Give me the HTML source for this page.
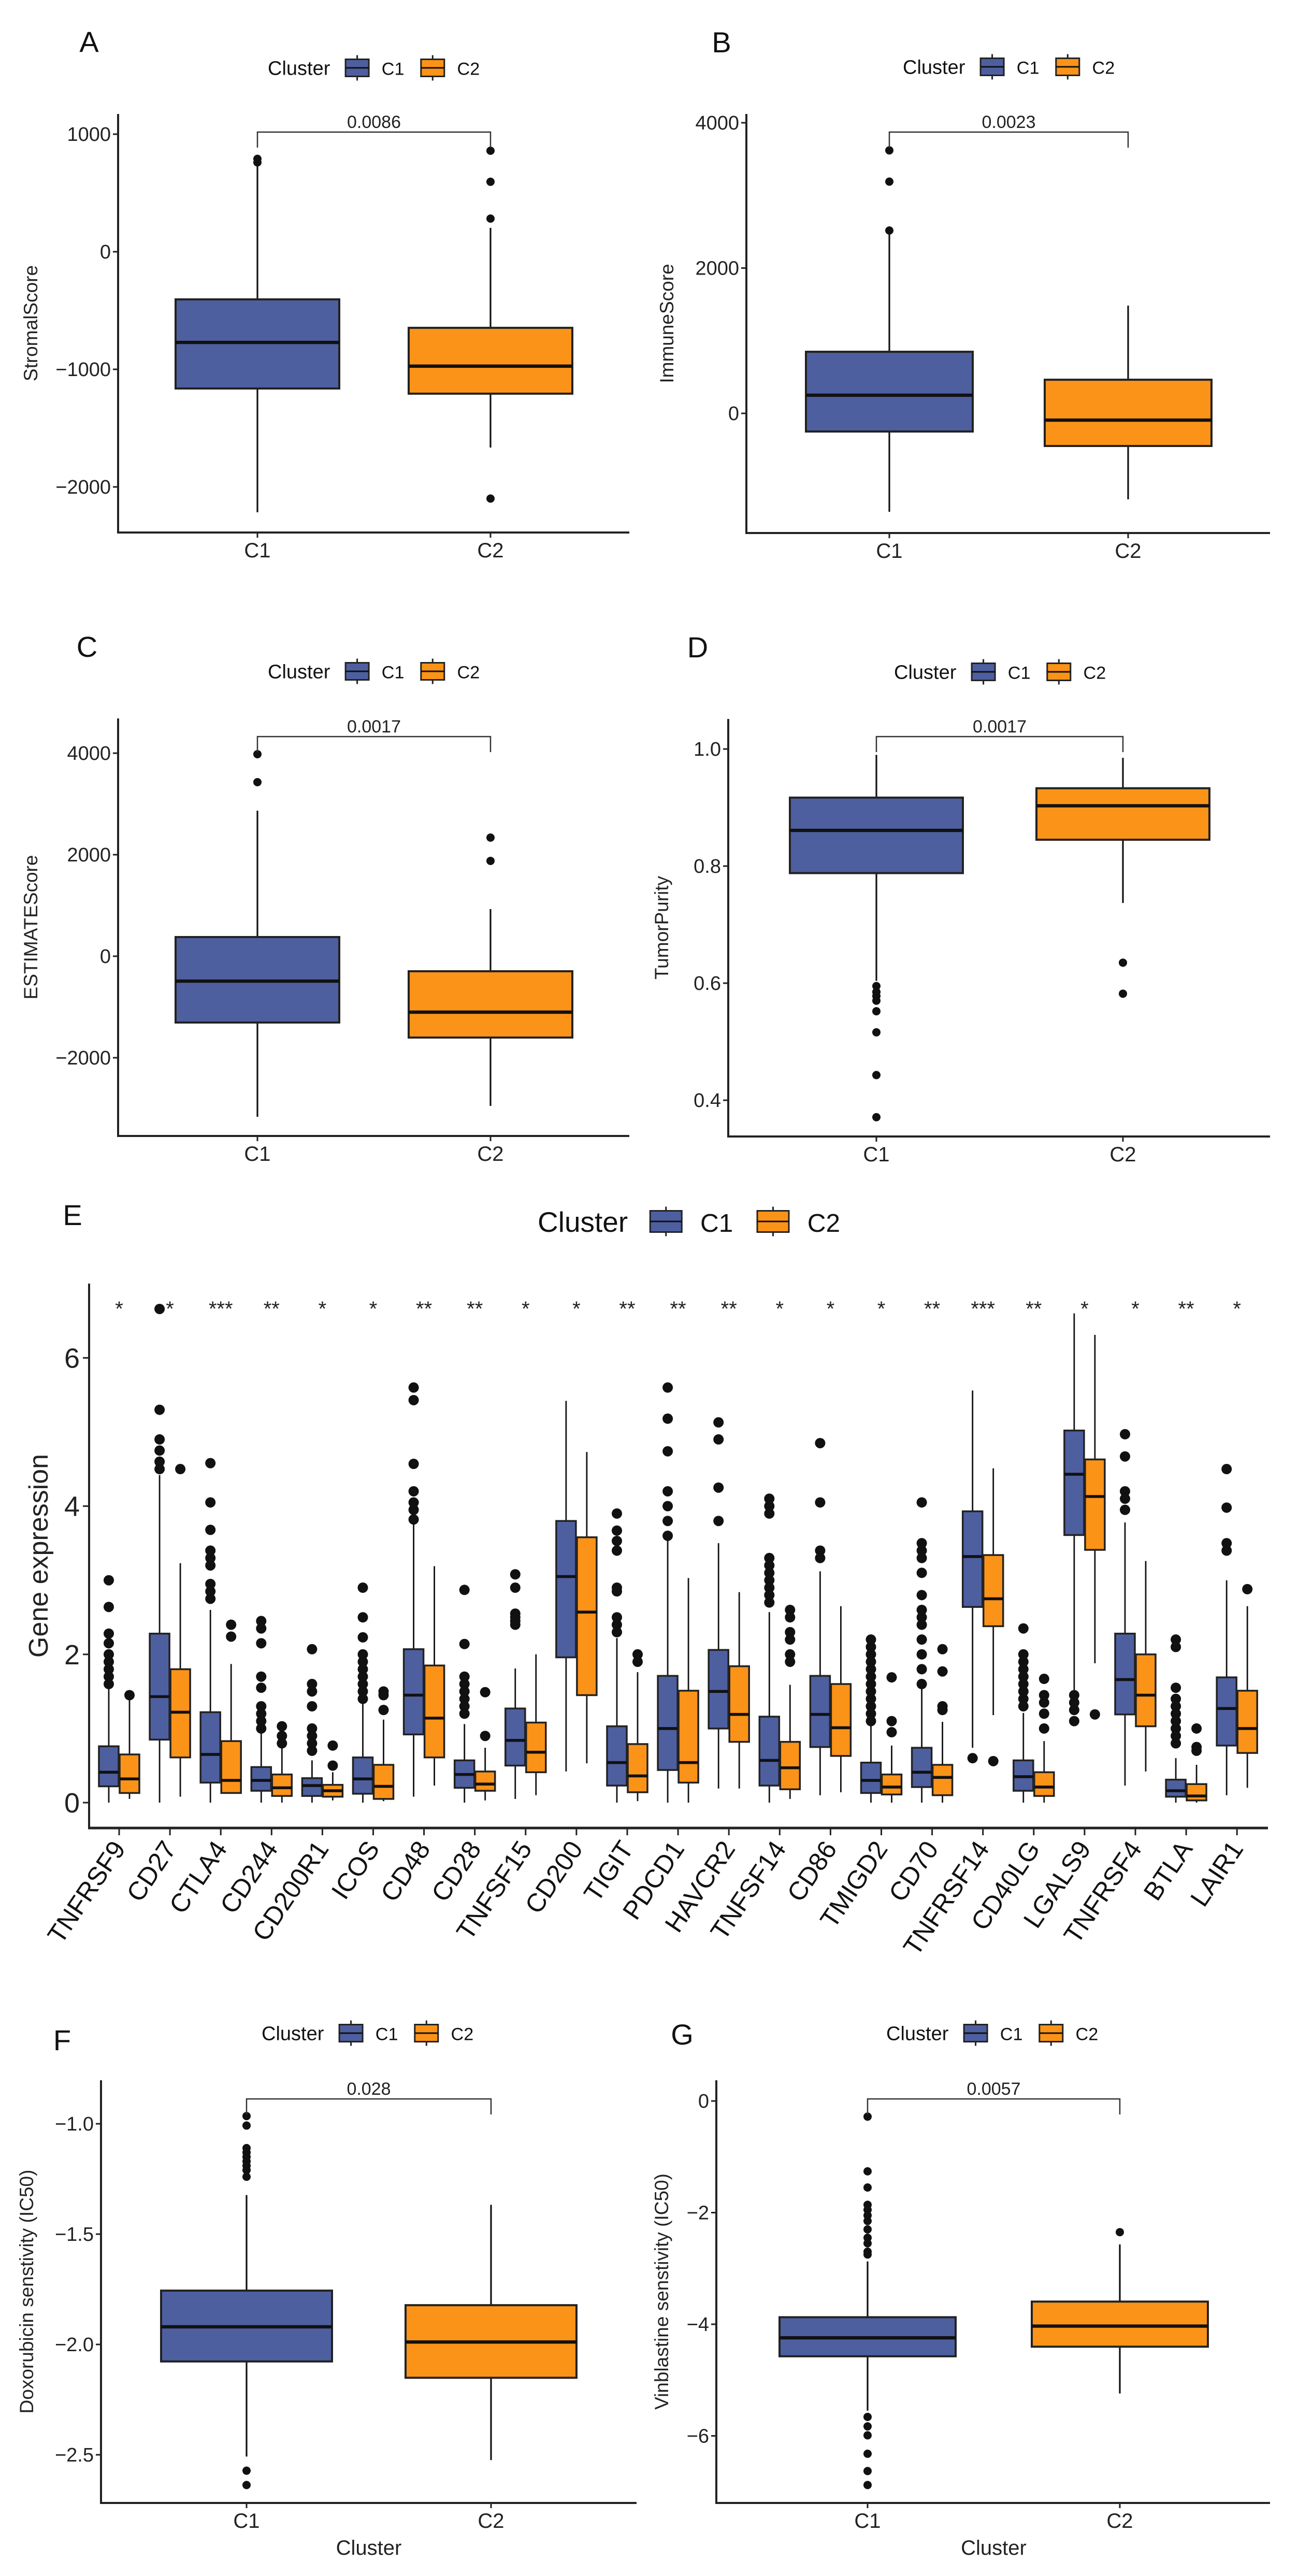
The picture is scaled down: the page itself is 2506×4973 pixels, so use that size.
<!DOCTYPE html>
<html><head><meta charset="utf-8"><style>
body{margin:0;background:#fff}
svg{display:block;font-family:"Liberation Sans",Arial,sans-serif}
</style></head><body>
<svg id="fig" width="2506" height="4973" viewBox="0 0 2506 4973" xmlns="http://www.w3.org/2000/svg">
<rect width="2506" height="4973" fill="#fff"/>
</svg>
<script>
// ---- Panel A: StromalScore ----
const aGroups=["C1","C2"];
const aQ1=[-1163,-1207], aMed=[-771,-973], aQ3=[-405,-647], aLo=[-2216,-1665], aHi=[750,203];
const aOut=[[760,790],[859,595,282,-2099]];
// ---- Panel B: ImmuneScore ----
const bQ1=[-250,-449], bMed=[250,-93], bQ3=[848,463], bLo=[-1355,-1184], bHi=[2470,1483];
const bOut=[[3620,3190,2517],[]];
// ---- Panel C: ESTIMATEScore ----
const cQ1=[-1306,-1602], cMed=[-490,-1102], cQ3=[378,-296], cLo=[-3163,-2949], cHi=[2867,929];
const cOut=[[3980,3429],[2337,1878]];
// ---- Panel D: TumorPurity ----
const dQ1=[0.788,0.845], dMed=[0.861,0.903], dQ3=[0.917,0.933], dLo=[0.604,0.737], dHi=[0.990,0.985];
const dOut=[[0.595,0.585,0.578,0.57,0.552,0.516,0.443,0.371],[0.635,0.582]];
// ---- Panel E: immune checkpoint genes ----
const eGenes=["TNFRSF9","CD27","CTLA4","CD244","CD200R1","ICOS","CD48","CD28","TNFSF15","CD200","TIGIT","PDCD1","HAVCR2","TNFSF14","CD86","TMIGD2","CD70","TNFRSF14","CD40LG","LGALS9","TNFRSF4","BTLA","LAIR1"];
const eStars=["*","*","***","**","*","*","**","**","*","*","**","**","**","*","*","*","**","***","**","*","*","**","*"];
const e1Q1=[0.22,0.85,0.27,0.16,0.09,0.12,0.92,0.2,0.5,1.96,0.23,0.44,1.0,0.23,0.75,0.13,0.21,2.64,0.16,3.61,1.19,0.08,0.77];
const e1Med=[0.41,1.43,0.65,0.3,0.23,0.32,1.45,0.38,0.84,3.05,0.54,1.0,1.5,0.57,1.19,0.3,0.41,3.32,0.35,4.43,1.66,0.16,1.27];
const e1Q3=[0.76,2.28,1.22,0.48,0.33,0.61,2.07,0.57,1.27,3.8,1.03,1.71,2.06,1.16,1.71,0.54,0.74,3.93,0.57,5.02,2.28,0.31,1.69];
const e1Lo=[0,0,0,0,0,0,0.08,0,0.05,0.42,0,0,0.19,0,0.1,0,0,0.74,0,1.52,0.23,0,0.1];
const e1Hi=[1.54,4.42,2.6,0.94,0.57,1.35,3.78,1.06,1.81,5.42,2.22,3.55,3.5,2.57,3.12,1.09,1.54,5.56,1.21,6.6,3.78,0.6,3.0];
const e2Q1=[0.13,0.61,0.13,0.09,0.08,0.05,0.61,0.16,0.41,1.45,0.14,0.27,0.82,0.18,0.63,0.11,0.1,2.38,0.09,3.41,1.03,0.03,0.67];
const e2Med=[0.32,1.22,0.3,0.2,0.16,0.22,1.14,0.25,0.68,2.57,0.36,0.54,1.19,0.47,1.01,0.21,0.34,2.75,0.21,4.13,1.45,0.09,1.0];
const e2Q3=[0.65,1.8,0.83,0.38,0.24,0.51,1.85,0.42,1.08,3.58,0.79,1.51,1.84,0.82,1.6,0.38,0.51,3.34,0.41,4.63,2.0,0.25,1.51];
const e2Lo=[0.05,0.08,0.12,0,0.03,0.02,0.23,0.03,0.1,0.53,0.02,0,0.19,0.05,0.14,0,0,1.18,0,1.88,0.42,0,0.2];
const e2Hi=[1.41,3.23,1.87,0.74,0.41,1.12,3.19,0.74,2.0,4.73,1.76,3.03,2.84,1.59,2.65,0.77,1.09,4.51,0.83,6.31,3.26,0.51,2.65];
const e1Out=[[3.0,2.64,2.28,2.15,2.0,1.9,1.8,1.7,1.6],[6.66,5.3,4.9,4.75,4.6,4.5],[4.58,4.05,3.68,3.4,3.3,3.2,2.95,2.85,2.75],[2.45,2.35,2.15,1.7,1.55,1.3,1.2,1.1,1.0],[2.07,1.6,1.5,1.3,1.0,0.9,0.8,0.7],[2.9,2.5,2.23,2.0,1.9,1.8,1.7,1.6,1.5,1.4],[5.6,5.43,4.57,4.2,4.05,3.95,3.82],[2.87,2.14,1.7,1.6,1.5,1.4,1.3,1.2],[3.08,2.9,2.55,2.5,2.45,2.4],[],[3.9,3.67,3.53,3.4,2.9,2.85,2.5,2.4,2.3],[5.6,5.18,4.74,4.2,4.0,3.8,3.6],[5.13,4.9,4.25,3.8],[4.1,4.0,3.9,3.3,3.2,3.1,3.0,2.9,2.8,2.7],[4.85,4.05,3.4,3.3],[2.2,2.1,2.0,1.9,1.8,1.7,1.6,1.5,1.4,1.3,1.2,1.1],[4.05,3.5,3.4,3.3,3.1,2.8,2.6,2.5,2.4,2.2,2.0,1.8,1.6],[0.6],[2.35,2.0,1.9,1.8,1.7,1.6,1.5,1.4,1.3],[1.45,1.35,1.25,1.1],[4.97,4.67,4.2,4.1,3.95],[2.2,2.1,1.55,1.4,1.3,1.2,1.1,1.0,0.9,0.8],[4.5,3.98,3.5,3.4]];
const e2Out=[[1.45],[4.5],[2.4,2.24],[1.03,0.9,0.8],[0.77,0.5],[1.5,1.45,1.25],[],[1.49,0.9],[],[],[2.0,1.9],[],[],[2.6,2.5,2.3,2.2,2.0,1.9],[],[1.69,1.1,0.95],[2.07,1.77,1.3,1.25],[0.56],[1.67,1.45,1.35,1.2,1.0],[1.19],[],[1.0,0.75,0.7],[2.88]];
const eTicks=[0,2,4,6];
// ---- Panel F: Doxorubicin ----
const fQ1=[-2.077,-2.151], fMed=[-1.92,-1.989], fQ3=[-1.756,-1.822], fLo=[-2.508,-2.524], fHi=[-1.323,-1.367];
const fOut=[[-0.965,-1.008,-1.11,-1.13,-1.15,-1.17,-1.19,-1.21,-1.24,-2.572,-2.637],[]];
// ---- Panel G: Vinblastine ----
const gQ1=[-4.574,-4.402], gMed=[-4.243,-4.033], gQ3=[-3.874,-3.594], gLo=[-5.547,-5.24], gHi=[-2.875,-2.57];
const gOut=[[-0.28,-1.26,-1.55,-1.86,-1.95,-2.05,-2.15,-2.3,-2.45,-2.55,-2.7,-2.75,-5.66,-5.83,-5.99,-6.32,-6.63,-6.88],[-2.35]];

const NS="http://www.w3.org/2000/svg";
const svg=document.getElementById('fig');
const BLUE="#4e5fa0", ORANGE="#fb9318";
function el(tag,attrs,parent){const e=document.createElementNS(NS,tag);for(const k in attrs)e.setAttribute(k,attrs[k]);(parent||svg).appendChild(e);return e;}
function txt(s,x,y,size,anchor,parent,extra){const t=el('text',Object.assign({x:x,y:y,'font-size':size,'text-anchor':anchor||'start',fill:'#111'},extra||{}),parent);t.textContent=s;return t;}
function fmt(v){return (v<0?"\u2212":"")+Math.abs(v);}

function legend(g,x,cy,fs,kw,kh){
  const lg=el('g',{},g);
  
  
  txt("Cluster",x,cy+fs*0.36,fs,'start',lg);
  let cx=x+fs*3.95;
  [["C1",BLUE],["C2",ORANGE]].forEach((p,i)=>{
    const k=el('g',{},lg);
    
    
    el('line',{x1:cx+kw/2,x2:cx+kw/2,y1:cy-kh/2-8,y2:cy+kh/2+8,stroke:'#222','stroke-width':3},k);
    el('rect',{x:cx,y:cy-kh/2,width:kw,height:kh,fill:p[1],stroke:'#222','stroke-width':3},k);
    el('line',{x1:cx,x2:cx+kw,y1:cy,y2:cy,stroke:'#111','stroke-width':3},k);
    txt(p[0],cx+kw+fs*0.65,cy+fs*0.36,fs*0.9,'start',k);
    cx+=kw+fs*0.65+fs*1.3+fs*0.7;
  });
}

function drawBox(g,cx,hw,q1,med,q3,lo,hi,outs,y,fill,r,sw){
  const b=el('g',{},g);
  
  
  el('line',{x1:cx,x2:cx,y1:y(hi),y2:y(q3),stroke:'#111','stroke-width':sw*0.8},b);
  el('line',{x1:cx,x2:cx,y1:y(q1),y2:y(lo),stroke:'#111','stroke-width':sw*0.8},b);
  el('rect',{x:cx-hw,y:y(q3),width:2*hw,height:y(q1)-y(q3),fill:fill,stroke:'#222','stroke-width':sw},b);
  el('line',{x1:cx-hw,x2:cx+hw,y1:y(med),y2:y(med),stroke:'#111','stroke-width':sw*1.6},b);
  outs.forEach(v=>{const c=el('circle',{cx:cx,cy:y(v),r:r,fill:'#111'},b);
    
    });
}

function panel(o){
  const g=el('g',{});
  
  
  const y=v=>o.y0+(v-o.v0)*o.k;
  txt(o.letter,o.lx,o.ly+20,56,'middle',g);
  legend(g,o.legx,o.legy,38,45,33);
  // axes
  const ya=el('line',{x1:o.x0,x2:o.x0,y1:o.top,y2:o.bot+2,stroke:'#222','stroke-width':4},g);
  
  
  const xa=el('line',{x1:o.x0-2,x2:o.x1,y1:o.bot,y2:o.bot,stroke:'#222','stroke-width':4},g);
  
  
  o.ticks.forEach((t,i)=>{
    el('line',{x1:o.x0-10,x2:o.x0,y1:y(t),y2:y(t),stroke:'#222','stroke-width':3},g);
    const tl=txt(o.tickLab[i],o.x0-14,y(t)+13,38,'end',g,{fill:'#222'});
    
    
  });
  const yt=txt(o.title,0,0,37,'middle',g,{transform:`translate(${o.tx},${(o.top+o.bot)/2}) rotate(-90)`,fill:'#222'});
  
  
  aGroups.forEach((grp,i)=>{
    const cx=o.cx[i];
    el('line',{x1:cx,x2:cx,y1:o.bot,y2:o.bot+10,stroke:'#222','stroke-width':3},g);
    const xl=txt(grp,cx,o.bot+48,40,'middle',g,{fill:'#222'});
    
    
    drawBox(g,cx,o.hw,o.q1[i],o.med[i],o.q3[i],o.lo[i],o.hi[i],o.out[i],y,i?ORANGE:BLUE,8,4);
  });
  // bracket
  const br=el('path',{d:`M${o.cx[0]},${o.by+30} V${o.by} H${o.cx[1]} V${o.by+30}`,fill:'none',stroke:'#333','stroke-width':2.5},g);
  
  
  const pv=txt(o.p,(o.cx[0]+o.cx[1])/2,o.by-8,34,'middle',g,{fill:'#222'});
  
  
  if(o.xtitle){const xt=txt("Cluster",(o.cx[0]+o.cx[1])/2,o.bot+100,40,'middle',g,{fill:'#222'});
    
    }
}

panel({name:'panel-a-stromal',letter:'A',lx:172,ly:80,legx:517,legy:131,x0:228,x1:1215,top:220,bot:1028,y0:486,v0:0,k:-0.227,
  ticks:[1000,0,-1000,-2000],tickLab:["1000","0","\u22121000","\u22122000"],title:"StromalScore",tx:72,cx:[497,947],hw:158,
  q1:aQ1,med:aMed,q3:aQ3,lo:aLo,hi:aHi,out:aOut,by:255,p:"0.0086"});
panel({name:'panel-b-immune',letter:'B',lx:1393,ly:81,legx:1743,legy:129,x0:1441,x1:2452,top:220,bot:1029,y0:798,v0:0,k:-0.14025,
  ticks:[4000,2000,0],tickLab:["4000","2000","0"],title:"ImmuneScore",tx:1300,cx:[1717,2178],hw:161,
  q1:bQ1,med:bMed,q3:bQ3,lo:bLo,hi:bHi,out:bOut,by:255,p:"0.0023"});
panel({name:'panel-c-estimate',letter:'C',lx:168,ly:1248,legx:517,legy:1296,x0:228,x1:1215,top:1387,bot:2193,y0:1846,v0:0,k:-0.098,
  ticks:[4000,2000,0,-2000],tickLab:["4000","2000","0","\u22122000"],title:"ESTIMATEScore",tx:72,cx:[497,947],hw:158,
  q1:cQ1,med:cMed,q3:cQ3,lo:cLo,hi:cHi,out:cOut,by:1422,p:"0.0017"});
panel({name:'panel-d-purity',letter:'D',lx:1347,ly:1249,legx:1726,legy:1297,x0:1406,x1:2452,top:1388,bot:2194,y0:1446,v0:1,k:-1130,
  ticks:[1.0,0.8,0.6,0.4],tickLab:["1.0","0.8","0.6","0.4"],title:"TumorPurity",tx:1290,cx:[1692,2168],hw:167,
  q1:dQ1,med:dMed,q3:dQ3,lo:dLo,hi:dHi,out:dOut,by:1422,p:"0.0017"});
panel({name:'panel-f-doxorubicin',letter:'F',lx:120,ly:3938,legx:505,legy:3925,x0:195,x1:1229,top:4016,bot:4832,y0:4100,v0:-1,k:-426,
  ticks:[-1.0,-1.5,-2.0,-2.5],tickLab:["\u22121.0","\u22121.5","\u22122.0","\u22122.5"],title:"Doxorubicin senstivity (IC50)",tx:64,cx:[476,948],hw:165,
  q1:fQ1,med:fMed,q3:fQ3,lo:fLo,hi:fHi,out:fOut,by:4052,p:"0.028",xtitle:true});
panel({name:'panel-g-vinblastine',letter:'G',lx:1317,ly:3927,legx:1711,legy:3925,x0:1383,x1:2452,top:4016,bot:4832,y0:4056,v0:0,k:-107.75,
  ticks:[0,-2,-4,-6],tickLab:["0","\u22122","\u22124","\u22126"],title:"Vinblastine senstivity (IC50)",tx:1290,cx:[1675,2162],hw:170,
  q1:gQ1,med:gMed,q3:gQ3,lo:gLo,hi:gHi,out:gOut,by:4052,p:"0.0057",xtitle:true});

// ---- Panel E ----
(function(){
  const g=el('g',{});
  
  
  const x0=172,x1=2448,top=2478,bot=3529;
  const y=v=>3480-v*143.1;
  const xc=i=>230+i*98.1;
  txt('E',140,2365,56,'middle',g);
  legend(g,1038,2358,55,61,41);
  const ya=el('line',{x1:x0,x2:x0,y1:top,y2:bot+2,stroke:'#222','stroke-width':4},g);
  
  
  const xa=el('line',{x1:x0-2,x2:x1,y1:bot,y2:bot,stroke:'#222','stroke-width':5},g);
  
  
  eTicks.forEach(t=>{
    el('line',{x1:x0-12,x2:x0,y1:y(t),y2:y(t),stroke:'#222','stroke-width':3},g);
    const tl=txt(String(t),x0-18,y(t)+19,54,'end',g,{fill:'#222'});
    
    
  });
  const yt=txt("Gene expression",0,0,52,'middle',g,{transform:`translate(92,${(top+bot)/2}) rotate(-90)`,fill:'#222'});
  
  
  eGenes.forEach((gene,i)=>{
    const cx=xc(i);
    el('line',{x1:cx,x2:cx,y1:bot,y2:bot+14,stroke:'#222','stroke-width':3},g);
    const xl=txt(gene,0,0,50,'end',g,{transform:`translate(${cx+14},${bot+40}) rotate(-56)`,fill:'#111'});
    
    
    const st=txt(eStars[i],cx,2540,40,'middle',g,{fill:'#222'});
    
    
    drawBox(g,cx-20,19,e1Q1[i],e1Med[i],e1Q3[i],e1Lo[i],e1Hi[i],e1Out[i],y,BLUE,10,3.5);
    drawBox(g,cx+20,19,e2Q1[i],e2Med[i],e2Q3[i],e2Lo[i],e2Hi[i],e2Out[i],y,ORANGE,10,3.5);
  });
})();
</script>
</body></html>
